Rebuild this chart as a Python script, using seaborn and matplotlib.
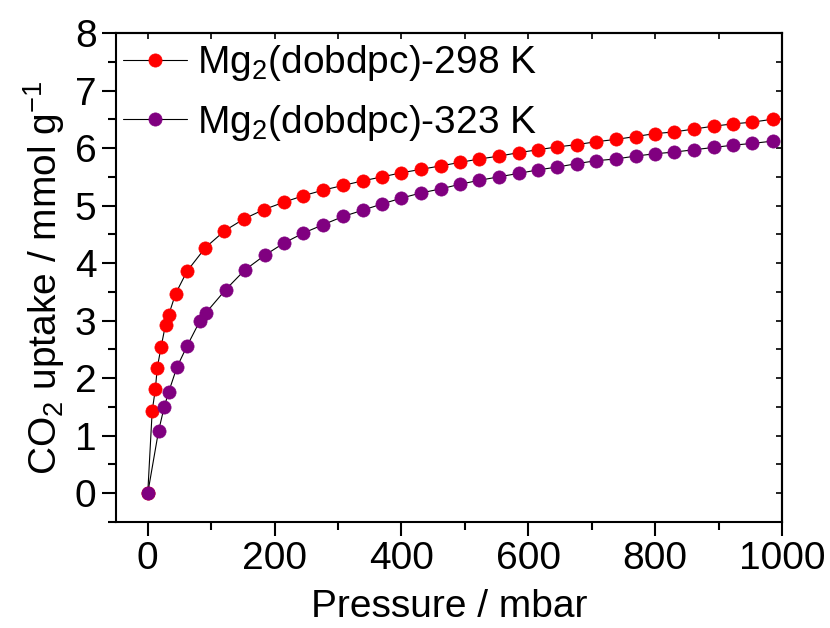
import numpy as np
import pandas as pd
import matplotlib
matplotlib.use('Agg')
import matplotlib.pyplot as plt
import seaborn as sns

p_298 = [0, 7, 12, 15, 21, 28, 33, 44, 62, 91, 121, 152, 183, 215, 245, 277, 308, 339, 370, 400,
         431, 462, 492, 523, 554, 585, 615, 646, 677, 707, 738, 769, 799, 830, 861, 892, 923, 953, 985]
q_298 = [0, 1.43, 1.81, 2.18, 2.54, 2.93, 3.10, 3.47, 3.86, 4.27, 4.56, 4.77, 4.93, 5.06, 5.17, 5.27,
         5.35, 5.43, 5.50, 5.57, 5.63, 5.69, 5.75, 5.81, 5.86, 5.92, 5.97, 6.02, 6.06, 6.11, 6.15, 6.20,
         6.25, 6.28, 6.33, 6.38, 6.42, 6.45, 6.50]

p_323 = [0, 17, 26, 33, 46, 62, 82, 92, 123, 153, 185, 215, 245, 277, 308, 339, 370, 400, 431, 462,
         492, 523, 554, 585, 615, 646, 677, 707, 738, 769, 799, 830, 861, 892, 923, 953, 985]
q_323 = [0, 1.08, 1.50, 1.76, 2.19, 2.56, 2.99, 3.14, 3.54, 3.88, 4.14, 4.35, 4.52, 4.67, 4.81, 4.92,
         5.03, 5.13, 5.22, 5.29, 5.37, 5.44, 5.50, 5.56, 5.62, 5.67, 5.73, 5.78, 5.81, 5.86, 5.90, 5.93,
         5.97, 6.01, 6.05, 6.08, 6.12]

labels = ['Mg$_2$(dobdpc)-298 K', 'Mg$_2$(dobdpc)-323 K']
colors = ['#ff0000', '#800080']

sns.set_style('ticks')
plt.rcParams['font.family'] = ['Liberation Sans', 'DejaVu Sans']
plt.rcParams['mathtext.fontset'] = 'custom'
plt.rcParams['mathtext.rm'] = 'Liberation Sans'
plt.rcParams['mathtext.it'] = 'Liberation Sans'
plt.rcParams['axes.linewidth'] = 1.5
for key in ['text.color', 'axes.labelcolor', 'xtick.color', 'ytick.color', 'axes.edgecolor']:
    plt.rcParams[key] = 'black'

fig = plt.figure(figsize=(8.3, 6.28), dpi=100)
ax = fig.add_axes([0.1398, 0.1688, 0.8024, 0.7787])

for p, q, lab, c in zip([p_298, p_323], [q_298, q_323], labels, colors):
    df = pd.DataFrame({'p': p, 'q': q})
    sns.lineplot(data=df, x='p', y='q', ax=ax, estimator=None, sort=False,
                 color='black', lw=0.8, marker='o', markersize=9.5,
                 markerfacecolor=c, markeredgecolor=c, markeredgewidth=0.5, label=lab)

ax.set_xlim(-50, 1000)
ax.set_ylim(-0.5, 8)
ax.set_xticks(np.arange(0, 1001, 200))
ax.set_yticks(np.arange(0, 9, 1))
ax.set_xticks(np.arange(0, 1001, 100), minor=True)
ax.set_yticks(np.arange(-0.5, 8.01, 0.5), minor=True)
ax.tick_params(which='major', direction='out', length=10, width=1.5, labelsize=28, pad=4)
ax.tick_params(which='minor', direction='out', length=6, width=1.5)

# inward ticks mirrored on top and right
sec_x = ax.secondary_xaxis('top')
sec_x.set_xticks(np.arange(0, 1001, 100))
sec_x.tick_params(direction='in', length=4, width=1.2, labeltop=False)
sec_y = ax.secondary_yaxis('right')
sec_y.set_yticks(np.arange(-0.5, 8.01, 0.5))
sec_y.tick_params(direction='in', length=4, width=1.2, labelright=False)

ax.set_xlabel('Pressure / mbar', fontsize=28, labelpad=8)
ax.set_ylabel('CO$_2$ uptake / mmol g$^{-1}$', fontsize=28, labelpad=6)

ax.legend(loc='upper left', bbox_to_anchor=(0.0105, 0.979), frameon=False, fontsize=28,
          handlelength=1.65, handletextpad=0.26, borderpad=0, borderaxespad=0, labelspacing=0.5)

fig.savefig('out.png', dpi=100)
